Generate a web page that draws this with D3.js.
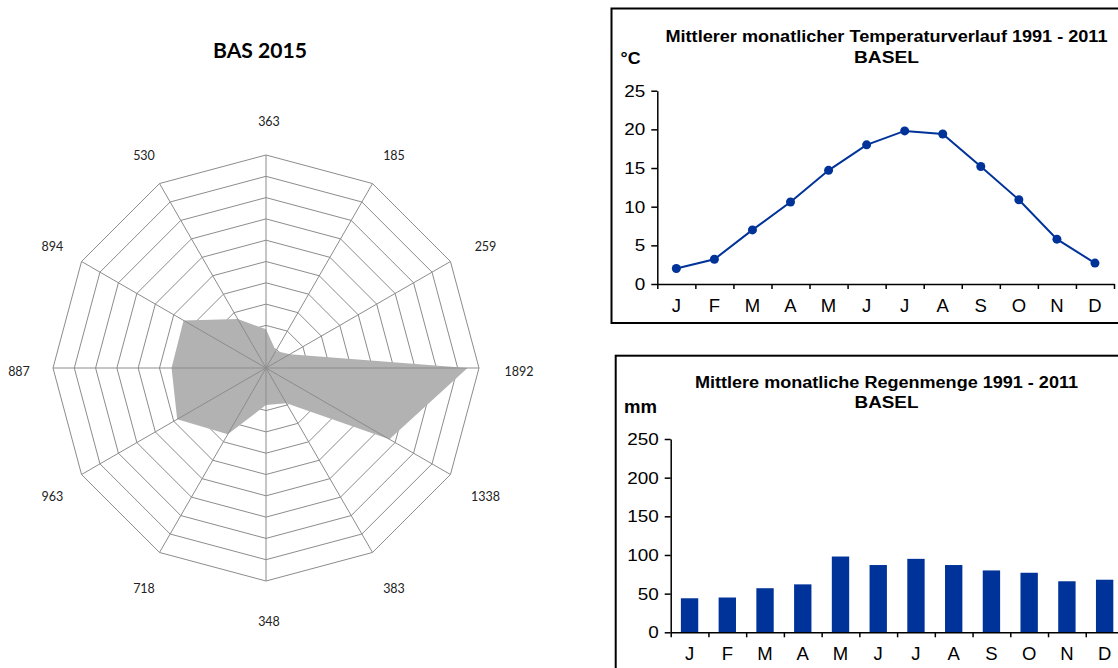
<!DOCTYPE html>
<html>
<head>
<meta charset="utf-8">
<script src="https://cdn.jsdelivr.net/npm/d3@7"></script>
<style>
  html, body { margin: 0; padding: 0; background: #fff; }
  svg { display: block; }
</style>
</head>
<body>
<svg id="chart" width="1118" height="668"></svg>
<script>
// ---------- DATA ----------
const radarTitle = "BAS 2015";
const radarLabels = ["363","185","259","1892","1338","383","348","718","963","887","894","530"];
const radarValues = [363,185,259,1892,1338,383,348,718,963,887,894,530];
const radarRings = [200,400,600,800,1000,1200,1400,1600,1800,2000];

const months = ["J","F","M","A","M","J","J","A","S","O","N","D"];
const tempValues = [2.0,3.2,7.0,10.6,14.7,18.0,19.8,19.4,15.2,10.9,5.8,2.7];
const tempTicks = [0,5,10,15,20,25];
const tempTitle = ["Mittlerer monatlicher Temperaturverlauf 1991 - 2011","BASEL"];
const tempUnit = "°C";

const rainValues = [44,45,57,62,98,87,95,87,80,77,66,68];
const rainTicks = [0,50,100,150,200,250];
const rainTitle = ["Mittlere monatliche Regenmenge 1991 - 2011","BASEL"];
const rainUnit = "mm";

// ---------- SETUP ----------
const svg = d3.select("#chart");
const BLUE = "#003399";

function stretch(sel, factor) {
  sel.each(function() {
    const w = this.getComputedTextLength();
    d3.select(this).attr("textLength", w * factor).attr("lengthAdjust", "spacingAndGlyphs");
  });
}
function fitWidth(sel, width) {
  sel.attr("textLength", width).attr("lengthAdjust", "spacingAndGlyphs");
}

// ---------- RADAR ----------
(function radar() {
  const cx = 266, cy = 368, R = 213;
  const n = radarValues.length;
  const r = d3.scaleLinear().domain([0, 2000]).range([0, R]);
  const ang = i => i * 2 * Math.PI / n;
  const pt = (i, v) => [cx + r(v) * Math.sin(ang(i)), cy - r(v) * Math.cos(ang(i))];
  const g = svg.append("g");

  g.append("text").attr("x", 260).attr("y", 58).attr("text-anchor", "middle")
    .attr("font-family", "Lato, 'Open Sans', sans-serif").attr("font-weight", "bold")
    .attr("font-size", 20).attr("fill", "#000").text(radarTitle)
    .call(fitWidth, 94);

  const line = d3.line();
  g.selectAll("path.ring").data(radarRings).join("path")
    .attr("class", "ring")
    .attr("d", v => line(d3.range(n).map(i => pt(i, v))) + "Z")
    .attr("fill", "none").attr("stroke", "#8c8c8c").attr("stroke-width", 1);

  g.append("path")
    .attr("d", line(radarValues.map((v, i) => pt(i, v))) + "Z")
    .attr("fill", "#b2b2b2").attr("stroke", "none");

  g.selectAll("line.spoke").data(d3.range(n)).join("line")
    .attr("class", "spoke")
    .attr("x1", cx).attr("y1", cy)
    .attr("x2", i => pt(i, 2000)[0]).attr("y2", i => pt(i, 2000)[1])
    .attr("stroke", "#8c8c8c").attr("stroke-width", 1);

  const LR = 250;
  g.selectAll("text.lab").data(radarLabels).join("text")
    .attr("class", "lab")
    .attr("x", (d, i) => cx + 3 + LR * Math.sin(ang(i)))
    .attr("y", (d, i) => cy + 3.8 - LR * Math.cos(ang(i)) + 4.3)
    .attr("text-anchor", "middle")
    .attr("font-family", "Lato, 'Open Sans', sans-serif")
    .attr("font-size", 12.5).attr("fill", "#222")
    .text(d => d);
})();

// ---------- helper for right charts ----------
function frame(box, plot, ticks, yMax, title, unit, titlePos, unitPos) {
  const g = svg.append("g");
  g.append("rect").attr("x", box.x).attr("y", box.y).attr("width", box.w).attr("height", box.h)
    .attr("fill", "#fff").attr("stroke", "#000").attr("stroke-width", 2);

  const x = d3.scaleBand().domain(d3.range(months.length)).range([plot.x0, plot.x1]);
  const xl = d3.scaleLinear().domain([0, months.length]).range([plot.x0, plot.x1]);
  const y = d3.scaleLinear().domain([0, yMax]).range([plot.y0, plot.y1]);

  // title
  g.append("text").attr("x", titlePos.x).attr("y", titlePos.y1).attr("text-anchor", "middle")
    .attr("font-family", "'Liberation Sans', Arial, sans-serif").attr("font-weight", "bold")
    .attr("font-size", 16).text(title[0]).call(fitWidth, titlePos.w1);
  g.append("text").attr("x", titlePos.x).attr("y", titlePos.y2).attr("text-anchor", "middle")
    .attr("font-family", "'Liberation Sans', Arial, sans-serif").attr("font-weight", "bold")
    .attr("font-size", 16).text(title[1]).call(fitWidth, titlePos.w2);
  g.append("text").attr("x", unitPos.x).attr("y", unitPos.y)
    .attr("font-family", "'Liberation Sans', Arial, sans-serif").attr("font-weight", "bold")
    .attr("font-size", unitPos.size).text(unit).call(fitWidth, unitPos.w);

  // y axis
  const ya = g.append("g").attr("transform", `translate(${plot.x0},0)`)
    .call(d3.axisLeft(y).tickValues(ticks).tickSize(6).tickSizeOuter(0).tickPadding(6));
  ya.select(".domain").attr("stroke", "#000").attr("stroke-width", 1.5);
  ya.selectAll(".tick line").attr("stroke", "#000").attr("stroke-width", 1.5);
  ya.selectAll(".tick text").attr("font-family", "'Liberation Sans', Arial, sans-serif")
    .attr("font-size", 16).attr("fill", "#000").attr("dy", "0.35em").call(stretch, 1.18);

  // x axis
  const xa = g.append("g").attr("transform", `translate(0,${plot.y0})`)
    .call(d3.axisBottom(xl).tickValues(d3.range(months.length + 1)).tickSize(5).tickSizeOuter(0).tickFormat(""));
  xa.select(".domain").attr("stroke", "#000").attr("stroke-width", 1.5);
  xa.selectAll(".tick line").attr("stroke", "#000").attr("stroke-width", 1.5);
  g.selectAll("text.mon").data(months).join("text").attr("class", "mon")
    .attr("x", (d, i) => x(i) + x.bandwidth() / 2).attr("y", plot.y0 + plot.labDy)
    .attr("text-anchor", "middle")
    .attr("font-family", "'Liberation Sans', Arial, sans-serif")
    .attr("font-size", 18.5).attr("fill", "#000").text(d => d);

  return {g, x, y};
}

// ---------- TEMPERATURE ----------
(function temp() {
  const {g, x, y} = frame(
    {x: 611.5, y: 8.5, w: 560, h: 314.5},
    {x0: 657.3, x1: 1114, y0: 284, y1: 90.7, labDy: 28},
    tempTicks, 25, tempTitle, tempUnit,
    {x: 886.5, y1: 41.5, w1: 442, y2: 62.5, w2: 65},
    {x: 620.5, y: 64, size: 17, w: 20}
  );
  const ln = d3.line().x((d, i) => x(i) + x.bandwidth() / 2).y(d => y(d));
  g.append("path").attr("d", ln(tempValues)).attr("fill", "none")
    .attr("stroke", BLUE).attr("stroke-width", 2);
  g.selectAll("circle.pt").data(tempValues).join("circle").attr("class", "pt")
    .attr("cx", (d, i) => x(i) + x.bandwidth() / 2).attr("cy", d => y(d))
    .attr("r", 4.5).attr("fill", BLUE);
})();

// ---------- RAIN ----------
(function rain() {
  const {g, x, y} = frame(
    {x: 615.7, y: 355.7, w: 560, h: 400},
    {x0: 670.7, x1: 1123.5, y0: 632.3, y1: 439, labDy: 28},
    rainTicks, 250, rainTitle, rainUnit,
    {x: 886.5, y1: 388, w1: 383, y2: 408, w2: 64},
    {x: 624, y: 412.5, size: 18, w: 33}
  );
  const bw = x.bandwidth() * 0.46;
  g.insert("g", ":nth-child(5)").selectAll("rect.bar").data(rainValues).join("rect").attr("class", "bar")
    .attr("x", (d, i) => x(i) + x.bandwidth() / 2 - bw / 2)
    .attr("y", d => y(d)).attr("width", bw).attr("height", d => y(0) - y(d))
    .attr("fill", BLUE);
})();
</script>
</body>
</html>
